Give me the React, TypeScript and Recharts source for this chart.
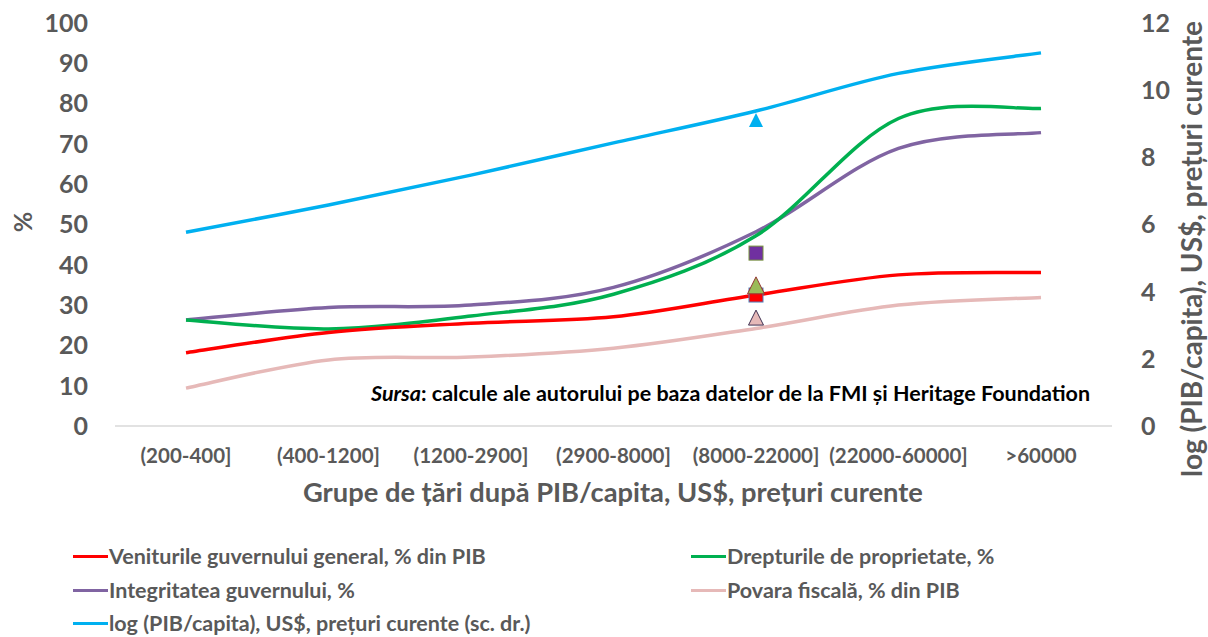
import React from "react";
import { ComposedChart, Line, XAxis, YAxis } from "recharts";

const categories = [
  "(200-400]",
  "(400-1200]",
  "(1200-2900]",
  "(2900-8000]",
  "(8000-22000]",
  "(22000-60000]",
  ">60000",
];

// medii pe grupe (scala stanga, %)
const venituri = [18.2, 23.2, 25.5, 27.1, 32.5, 37.5, 38.1];
const proprietate = [26.3, 24.1, 27.3, 32.7, 47.2, 76.3, 78.8];
const integritate = [26.3, 29.4, 30.0, 34.4, 48.2, 68.9, 72.8];
const povara = [9.4, 16.4, 17.1, 19.3, 24.2, 30.0, 31.9];
// scala dreapta
const logPib = [5.77, 6.58, 7.47, 8.43, 9.38, 10.5, 11.11];

// marcajele separate din grupa (8000-22000]
const ptVenituri = [null, null, null, null, 32.5, null, null];
const ptProprietate = [null, null, null, null, 34.9, null, null];
const ptIntegritate = [null, null, null, null, 42.9, null, null];
const ptPovara = [null, null, null, null, 26.9, null, null];
const ptLogPib = [null, null, null, null, 9.11, null, null];

const leftTicks = [0, 10, 20, 30, 40, 50, 60, 70, 80, 90, 100];
const rightTicks = [0, 2, 4, 6, 8, 10, 12];

const data = categories.map((grupa, i) => ({
  grupa,
  venituri: venituri[i],
  proprietate: proprietate[i],
  integritate: integritate[i],
  povara: povara[i],
  logPib: logPib[i],
  ptVenituri: ptVenituri[i],
  ptProprietate: ptProprietate[i],
  ptIntegritate: ptIntegritate[i],
  ptPovara: ptPovara[i],
  ptLogPib: ptLogPib[i],
}));

const FONT = "Lato, sans-serif";
const GREY = "#595959";
const LW = 3.5;

// Excel-like smoothing (Catmull-Rom as cubic bezier)
// eslint-disable-next-line @typescript-eslint/no-explicit-any
const excelSmooth = (context: any) => {
  let pts: number[][] = [];
  return {
    areaStart() {},
    areaEnd() {},
    lineStart() {
      pts = [];
    },
    point(x: number, y: number) {
      pts.push([+x, +y]);
    },
    lineEnd() {
      if (!pts.length) return;
      context.moveTo(pts[0][0], pts[0][1]);
      for (let i = 0; i < pts.length - 1; i++) {
        const p0 = pts[i - 1] || pts[i];
        const p1 = pts[i];
        const p2 = pts[i + 1];
        const p3 = pts[i + 2] || p2;
        context.bezierCurveTo(
          p1[0] + (p2[0] - p0[0]) / 6,
          p1[1] + (p2[1] - p0[1]) / 6,
          p2[0] - (p3[0] - p1[0]) / 6,
          p2[1] - (p3[1] - p1[1]) / 6,
          p2[0],
          p2[1]
        );
      }
    },
  };
};

const triangle =
  (fill: string, stroke: string, size: number) =>
  // eslint-disable-next-line @typescript-eslint/no-explicit-any
  (props: any) => {
    const { cx, cy, value, index } = props;
    if (value == null || cx == null || cy == null)
      return <g key={`t-${index}`} />;
    const h = size / 2;
    return (
      <polygon
        key={`t-${index}`}
        points={`${cx},${cy - h} ${cx - h},${cy + h} ${cx + h},${cy + h}`}
        fill={fill}
        stroke={stroke}
        strokeWidth={stroke === "none" ? 0 : 1}
      />
    );
  };

const square =
  (fill: string, stroke: string, size: number) =>
  // eslint-disable-next-line @typescript-eslint/no-explicit-any
  (props: any) => {
    const { cx, cy, value, index } = props;
    if (value == null || cx == null || cy == null)
      return <g key={`s-${index}`} />;
    return (
      <rect
        key={`s-${index}`}
        x={cx - size / 2}
        y={cy - size / 2}
        width={size}
        height={size}
        fill={fill}
        stroke={stroke}
        strokeWidth={1}
      />
    );
  };

const legendItems = [
  { name: "Veniturile guvernului general, % din PIB", color: "#FF0000", left: 73, top: 556 },
  { name: "Drepturile de proprietate, %", color: "#00B050", left: 691, top: 556 },
  { name: "Integritatea guvernului, %", color: "#8064A2", left: 73, top: 590 },
  { name: "Povara fiscală, % din PIB", color: "#E6B9B8", left: 691, top: 590 },
  { name: "log (PIB/capita), US$, prețuri curente (sc. dr.)", color: "#00B0F0", left: 73, top: 623 },
];

const tickStyle = { fontFamily: FONT, fontWeight: 700, fill: GREY };

export default function App() {
  return (
    <div
      style={{
        position: "absolute",
        left: 0,
        top: 0,
        width: 1208,
        height: 637,
        background: "#fff",
        fontFamily: FONT,
        overflow: "hidden",
      }}
    >
      <ComposedChart
        width={1208}
        height={500}
        data={data}
        margin={{ top: 23, right: 0, bottom: 0, left: 0 }}
      >
        <XAxis
          dataKey="grupa"
          height={74}
          padding={{ left: 71, right: 71 }}
          axisLine={{ stroke: "#D9D9D9", strokeWidth: 1.5 }}
          tickLine={false}
          tickMargin={16}
          interval={0}
          tick={{ ...tickStyle, fontSize: 20.5 }}
        />
        <YAxis
          yAxisId="left"
          width={115}
          domain={[0, 100]}
          ticks={leftTicks}
          axisLine={false}
          tickLine={false}
          tickMargin={21}
          tick={{ ...tickStyle, fontSize: 25 }}
        />
        <YAxis
          yAxisId="right"
          orientation="right"
          width={96}
          domain={[0, 12]}
          ticks={rightTicks}
          axisLine={false}
          tickLine={false}
          tickMargin={23}
          tick={{ ...tickStyle, fontSize: 25 }}
        />
        <Line yAxisId="right" dataKey="logPib" stroke="#00B0F0" strokeWidth={LW} dot={false} type={excelSmooth as never} isAnimationActive={false} />
        <Line yAxisId="left" dataKey="povara" stroke="#E6B9B8" strokeWidth={LW} dot={false} type={excelSmooth as never} isAnimationActive={false} />
        <Line yAxisId="left" dataKey="integritate" stroke="#8064A2" strokeWidth={LW} dot={false} type={excelSmooth as never} isAnimationActive={false} />
        <Line yAxisId="left" dataKey="proprietate" stroke="#00B050" strokeWidth={LW} dot={false} type={excelSmooth as never} isAnimationActive={false} />
        <Line yAxisId="left" dataKey="venituri" stroke="#FF0000" strokeWidth={LW} dot={false} type={excelSmooth as never} isAnimationActive={false} />

        <Line yAxisId="right" dataKey="ptLogPib" stroke="none" activeDot={false} dot={triangle("#00B0F0", "none", 14)} isAnimationActive={false} />
        <Line yAxisId="left" dataKey="ptPovara" stroke="none" activeDot={false} dot={triangle("#E6B9B8", "#403152", 15)} isAnimationActive={false} />
        <Line yAxisId="left" dataKey="ptIntegritate" stroke="none" activeDot={false} dot={square("#7030A0", "#77933C", 14)} isAnimationActive={false} />
        <Line yAxisId="left" dataKey="ptVenituri" stroke="none" activeDot={false} dot={square("#FF0000", "#4F81BD", 14)} isAnimationActive={false} />
        <Line yAxisId="left" dataKey="ptProprietate" stroke="none" activeDot={false} dot={triangle("#9BBB59", "#953735", 17)} isAnimationActive={false} />
      </ComposedChart>

      <div
        style={{
          position: "absolute",
          left: 22,
          top: 222,
          transform: "translate(-50%, -50%) rotate(-90deg)",
          fontSize: 25,
          fontWeight: 700,
          color: GREY,
        }}
      >
        %
      </div>
      <div
        style={{
          position: "absolute",
          left: 1191,
          top: 249,
          transform: "translate(-50%, -50%) rotate(-90deg)",
          fontSize: 28,
          fontWeight: 700,
          color: GREY,
          whiteSpace: "nowrap",
        }}
      >
        log (PIB/capita), US$, prețuri curente
      </div>
      <div
        style={{
          position: "absolute",
          left: 303,
          top: 491,
          transform: "translateY(-50%)",
          fontSize: 27.3,
          fontWeight: 700,
          color: GREY,
          whiteSpace: "nowrap",
        }}
      >
        Grupe de țări după PIB/capita, US$, prețuri curente
      </div>
      <div
        style={{
          position: "absolute",
          left: 371,
          top: 393,
          transform: "translateY(-50%)",
          fontSize: 21.5,
          fontWeight: 700,
          color: "#000",
          whiteSpace: "nowrap",
        }}
      >
        <i>Sursa</i>: calcule ale autorului pe baza datelor de la FMI și Heritage Foundation
      </div>

      {legendItems.map((it) => (
        <div
          key={it.name}
          style={{
            position: "absolute",
            left: it.left,
            top: it.top,
            transform: "translateY(-50%)",
            display: "flex",
            alignItems: "center",
            fontSize: 21.5,
            lineHeight: "24px",
            fontWeight: 700,
            color: GREY,
            whiteSpace: "nowrap",
          }}
        >
          <span style={{ display: "inline-block", width: 35, height: 3, background: it.color, marginRight: 1 }} />
          {it.name}
        </div>
      ))}
    </div>
  );
}
